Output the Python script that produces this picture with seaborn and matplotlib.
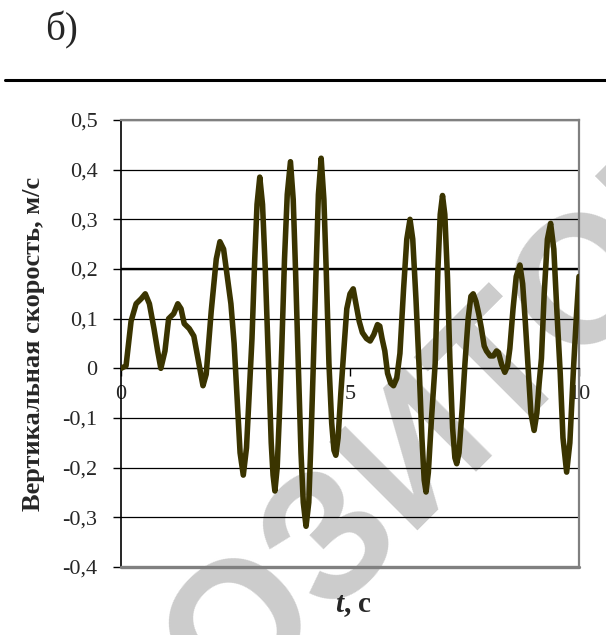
import numpy as np
import pandas as pd
import matplotlib
matplotlib.use("Agg")
import matplotlib.pyplot as plt
from matplotlib.lines import Line2D
import seaborn as sns

# ---- data ----
t_s = [0.00, 0.11, 0.22, 0.33, 0.44, 0.53, 0.62, 0.72, 0.80, 0.87, 0.96, 1.04, 1.15, 1.24,
       1.31, 1.38, 1.49, 1.59, 1.68, 1.79, 1.86, 1.97, 2.08, 2.16, 2.24, 2.32, 2.40, 2.47,
       2.53, 2.60, 2.67, 2.74, 2.80, 2.86, 2.92, 2.97, 3.03, 3.09, 3.15, 3.22, 3.28, 3.32,
       3.36, 3.41, 3.46, 3.51, 3.57, 3.63, 3.70, 3.76, 3.81, 3.87, 3.93, 3.98, 4.04, 4.10,
       4.15, 4.20, 4.26, 4.31, 4.37, 4.43, 4.48, 4.54, 4.60, 4.65, 4.69, 4.74, 4.80, 4.86,
       4.93, 5.00, 5.07, 5.13, 5.20, 5.27, 5.36, 5.44, 5.52, 5.60, 5.65, 5.70, 5.76, 5.82,
       5.89, 5.95, 6.02, 6.09, 6.17, 6.24, 6.31, 6.37, 6.44, 6.51, 6.57, 6.62, 6.66, 6.71,
       6.78, 6.86, 6.92, 6.97, 7.02, 7.07, 7.13, 7.18, 7.24, 7.29, 7.33, 7.38, 7.45, 7.51,
       7.58, 7.64, 7.69, 7.75, 7.81, 7.87, 7.93, 7.98, 8.06, 8.13, 8.20, 8.24, 8.31, 8.38,
       8.44, 8.49, 8.56, 8.63, 8.71, 8.77, 8.83, 8.89, 8.95, 9.02, 9.08, 9.13, 9.18, 9.24,
       9.31, 9.38, 9.45, 9.52, 9.59, 9.65, 9.73, 9.80, 9.88, 9.94, 10.00]
v_ms = [0.000, 0.005, 0.095, 0.130, 0.140, 0.150, 0.130, 0.080, 0.035, 0.000, 0.035, 0.100,
        0.110, 0.130, 0.120, 0.090, 0.080, 0.065, 0.020, -0.035, -0.012, 0.115, 0.220, 0.255,
        0.240, 0.185, 0.130, 0.050, -0.050, -0.170, -0.215, -0.160, -0.050, 0.060, 0.220,
        0.330, 0.385, 0.330, 0.200, 0.010, -0.150, -0.215, -0.247, -0.200, -0.090, 0.040,
        0.220, 0.350, 0.416, 0.340, 0.200, 0.010, -0.170, -0.270, -0.318, -0.270, -0.140,
        0.010, 0.200, 0.350, 0.423, 0.340, 0.200, 0.010, -0.110, -0.165, -0.175, -0.140,
        -0.050, 0.030, 0.120, 0.150, 0.160, 0.130, 0.095, 0.072, 0.060, 0.055, 0.068, 0.088,
        0.085, 0.060, 0.035, -0.010, -0.030, -0.035, -0.020, 0.030, 0.160, 0.260, 0.300,
        0.260, 0.140, 0.000, -0.140, -0.225, -0.249, -0.210, -0.100, 0.010, 0.200, 0.310,
        0.348, 0.310, 0.180, 0.020, -0.120, -0.180, -0.192, -0.170, -0.080, 0.010, 0.100,
        0.145, 0.150, 0.135, 0.110, 0.080, 0.045, 0.035, 0.025, 0.025, 0.035, 0.032, 0.008,
        -0.008, 0.005, 0.040, 0.120, 0.185, 0.208, 0.170, 0.090, 0.000, -0.090, -0.125,
        -0.090, -0.030, 0.020, 0.150, 0.260, 0.292, 0.240, 0.110, -0.010, -0.140, -0.209,
        -0.150, 0.000, 0.100, 0.185]

y_ticks = [-0.4, -0.3, -0.2, -0.1, 0.0, 0.1, 0.2, 0.3, 0.4, 0.5]
y_tick_labels = ["-0,4", "-0,3", "-0,2", "-0,1", "0", "0,1", "0,2", "0,3", "0,4", "0,5"]
x_ticks = [0, 5, 10]
x_tick_labels = ["0", "5", "10"]

y_label = "Вертикальная скорость, м/с"
x_label = r"$t$, с"
panel_label = "б)"
watermark = "РЕПОЗИТОРИЙ"

# ---- style ----
sns.set_theme(style="white")
plt.rcParams["font.family"] = ["Liberation Serif", "DejaVu Serif"]
plt.rcParams["mathtext.fontset"] = "custom"
plt.rcParams["mathtext.it"] = "Liberation Serif:italic:bold"
plt.rcParams["mathtext.rm"] = "Liberation Serif:bold"

W, H = 606, 635
fig = plt.figure(figsize=(W / 100, H / 100), dpi=100)
fig.patch.set_facecolor("white")

L, R, T, B = 121, 579, 120, 567
ax = fig.add_axes([L / W, 1 - B / H, (R - L) / W, (B - T) / H])
ax.set_facecolor("none")

df = pd.DataFrame({"t": t_s, "v": v_ms})
sns.lineplot(data=df, x="t", y="v", ax=ax, color="#3a3400", linewidth=4.0,
             sort=False, zorder=5, legend=False)
for ln in ax.get_lines():
    ln.set_solid_joinstyle("round")
    ln.set_solid_capstyle("round")

ax.set_xlim(0, 10)
ax.set_ylim(-0.4, 0.5)
ax.set_yticks(y_ticks)
ax.set_yticklabels(y_tick_labels)
ax.set_xticks(x_ticks)
ax.set_xticklabels(x_tick_labels)

ax.yaxis.grid(True, color="black", linewidth=0.9)
ax.xaxis.grid(False)
ax.set_axisbelow(True)
ax.axhline(0.2, color="black", linewidth=1.7, zorder=1)

# spines
ax.spines["bottom"].set_position(("data", 0))
ax.spines["bottom"].set_color("black")
ax.spines["bottom"].set_linewidth(0.9)
ax.spines["left"].set_color("black")
ax.spines["left"].set_linewidth(1.2)
for s in ("top", "right"):
    ax.spines[s].set_visible(True)
    ax.spines[s].set_color("#808080")
    ax.spines[s].set_linewidth(1.6)
ax.axhline(-0.4, color="#808080", linewidth=2.4, clip_on=False, zorder=3)

ax.tick_params(axis="y", direction="out", length=6, width=1, color="black",
               labelsize=16, pad=11, left=True)
ax.tick_params(axis="x", direction="out", length=6, width=1, color="black",
               labelsize=16, pad=6, bottom=True)

ax.set_ylabel(y_label, fontsize=19, fontweight="bold")
ax.yaxis.set_label_coords(-0.165, 0.5)
ax.set_xlabel(x_label, fontsize=21, fontweight="bold")
ax.xaxis.set_label_coords(0.507, -0.055)

fig.text(62 / W, 1 - 30 / H, panel_label, fontsize=28, ha="center", va="center")
fig.add_artist(Line2D([5 / W, 1.0], [1 - 80 / H] * 2, color="black", linewidth=2.2))

fig.text(420 / W, 1 - 450 / H, watermark, fontsize=130, family="Liberation Sans",
         fontweight="bold", color="#cccccc", rotation=45, ha="center", va="center",
         rotation_mode="anchor", zorder=-1)

fig.savefig("out.png", dpi=100, facecolor="white")
